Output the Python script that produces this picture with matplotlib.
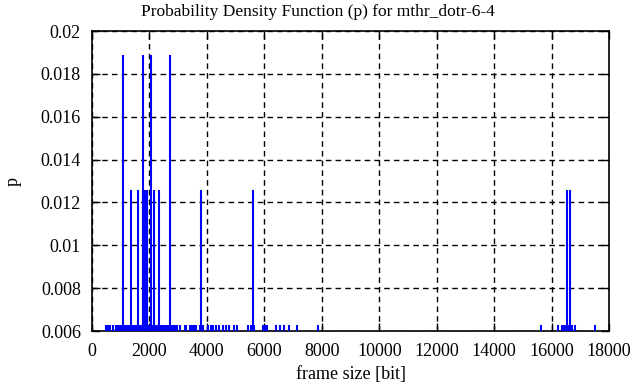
import matplotlib
matplotlib.use("Agg")
import matplotlib.pyplot as plt
import numpy as np

# frame sizes [bit] and their probabilities
tall_x = [1080, 1790, 2070, 2700]
tall_p = [0.01887] * len(tall_x)

mid_x = [1370, 1600, 1760, 1830, 1880, 1930, 2160, 2340, 3810, 5590, 16550, 16650]
mid_p = [0.01258] * len(mid_x)

low_x = [500, 560, 620, 720, 840, 900, 960, 1020, 1140, 1200, 1260, 1320,
         1420, 1470, 1520, 1560, 1650, 1700, 1730, 1860, 1910, 1960, 2010,
         2110, 2200, 2250, 2290, 2390, 2440, 2500, 2590, 2640, 2760, 2820,
         2880, 2950, 3050, 3230, 3280, 3420, 3480, 3560, 3620, 3760, 3880,
         4050, 4140, 4220, 4300, 4420, 4570, 4660, 4760, 4940, 5050, 5440,
         5530, 5640, 5960, 6020, 6090, 6420, 6560, 6700, 6860, 7150, 7880,
         15640, 16240, 16360, 16420, 16480, 16600, 16700, 16800, 17500]
low_p = [0.00629] * len(low_x)

xs = np.array(low_x + mid_x + tall_x)
ps = np.array(low_p + mid_p + tall_p)

plt.rcParams['font.family'] = ['Liberation Serif', 'DejaVu Serif']
plt.rcParams['font.size'] = 13

fig = plt.figure(figsize=(6.36, 3.87), dpi=100)
ax = fig.add_axes([92 / 636, 1 - 331 / 387, 517 / 636, 300 / 387])

ax.vlines(xs, 0, ps, colors='#0000ff', linewidth=1.5, zorder=3)

ax.set_xlim(0, 18000)
ax.set_ylim(0.006, 0.02)
ax.set_xticks(np.arange(0, 18001, 2000))
ax.set_yticks([0.006, 0.008, 0.01, 0.012, 0.014, 0.016, 0.018, 0.02])
ax.set_yticklabels(['0.006', '0.008', '0.01', '0.012', '0.014', '0.016', '0.018', '0.02'])
ax.grid(True, color='black', linestyle=(0, (4, 3)), linewidth=1.0, zorder=1)
ax.tick_params(direction='in', length=6, width=1, top=True, right=True)
ax.tick_params(axis='x', pad=9)
ax.tick_params(axis='y', pad=8)
for s in ax.spines.values():
    s.set_linewidth(1.2)

fig.text(0.5, 1 - 12 / 387, "Probability Density Function (p) for mthr_dotr-6-4",
         ha='center', va='center', fontsize=12.5)
ax.set_xlabel("frame size [bit]")
ax.set_ylabel("p")
ax.xaxis.set_label_coords(0.5, -44 / 300)
ax.yaxis.set_label_coords(-79 / 517, 0.5)
ax.xaxis.label.set_va('center')
ax.yaxis.label.set_va('center')

fig.savefig("out.png", dpi=100)
